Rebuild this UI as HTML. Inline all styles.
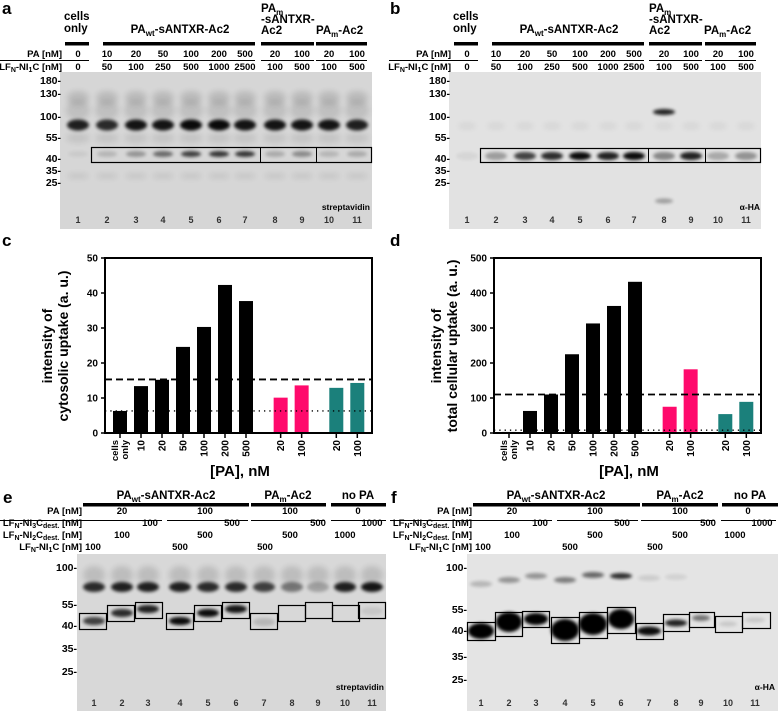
<!DOCTYPE html>
<html><head><meta charset="utf-8"><style>
html,body{margin:0;padding:0;background:#fff;}
svg{display:block;font-family:"Liberation Sans",Arial,sans-serif;font-weight:bold;}
</style></head><body>
<svg id="fig" width="778" height="711" viewBox="0 0 778 711" xmlns="http://www.w3.org/2000/svg">
<defs>
<filter id="bl" x="-50%" y="-200%" width="200%" height="500%"><feGaussianBlur stdDeviation="1.6"/></filter>
<filter id="bl2" x="-50%" y="-200%" width="200%" height="500%"><feGaussianBlur stdDeviation="3"/></filter>
</defs>

<!-- ===== Panel a ===== -->
<g>
<text x="2" y="14" font-size="17">a</text>
<text x="64" y="20" font-size="11.5">cells</text>
<text x="64" y="32" font-size="11.5">only</text>
<text x="180" y="33" font-size="11.5" text-anchor="middle">PA<tspan font-size="8" dy="3">wt</tspan><tspan dy="-3">-sANTXR-Ac2</tspan></text>
<text x="261" y="12" font-size="11.5">PA<tspan font-size="8" dy="3">m</tspan></text>
<text x="261" y="23" font-size="11.5">-sANTXR-</text>
<text x="261" y="34" font-size="11.5">Ac2</text>
<text x="316" y="34" font-size="11.5">PA<tspan font-size="8" dy="3">m</tspan><tspan dy="-3">-Ac2</tspan></text>
<g fill="#000"><rect x="65" y="42" width="24" height="3.5"/><rect x="103" y="42" width="152" height="3.5"/><rect x="261" y="42" width="53" height="3.5"/><rect x="316" y="42" width="51" height="3.5"/></g>
<text x="62" y="57" font-size="9.5" text-anchor="end">PA [nM]</text>
<text x="62" y="70" font-size="9.5" text-anchor="end">LF<tspan font-size="7" dy="2">N</tspan><tspan dy="-2">-NI</tspan><tspan font-size="7" dy="2">1</tspan><tspan dy="-2">C [nM]</tspan></text>
<line x1="0" y1="60.5" x2="89" y2="60.5" stroke="#000"/><line x1="103" y1="60.5" x2="255" y2="60.5" stroke="#000"/><line x1="261" y1="60.5" x2="314" y2="60.5" stroke="#000"/><line x1="316" y1="60.5" x2="367" y2="60.5" stroke="#000"/>
<g id="a-rows" font-size="9.5"></g>
<rect x="60" y="72" width="312" height="157" fill="#d6d6d6"/>
<g id="a-bands"></g>
<g font-size="10.5" text-anchor="end" id="a-mw"></g>
<rect x="91.5" y="147.5" width="280" height="15" fill="none" stroke="#000" stroke-width="1.2"/>
<line x1="260.5" y1="147.5" x2="260.5" y2="162.5" stroke="#000"/><line x1="316.5" y1="147.5" x2="316.5" y2="162.5" stroke="#000"/>
<text x="370" y="210" font-size="8.5" text-anchor="end">streptavidin</text>
<g id="a-lanes" font-size="9" fill="#333" text-anchor="middle"></g>
</g>

<!-- ===== Panel b ===== -->
<g>
<text x="390" y="14" font-size="17">b</text>
<text x="453" y="20" font-size="11.5">cells</text>
<text x="453" y="32" font-size="11.5">only</text>
<text x="569" y="33" font-size="11.5" text-anchor="middle">PA<tspan font-size="8" dy="3">wt</tspan><tspan dy="-3">-sANTXR-Ac2</tspan></text>
<text x="649" y="12" font-size="11.5">PA<tspan font-size="8" dy="3">m</tspan></text>
<text x="649" y="23" font-size="11.5">-sANTXR-</text>
<text x="649" y="34" font-size="11.5">Ac2</text>
<text x="704" y="34" font-size="11.5">PA<tspan font-size="8" dy="3">m</tspan><tspan dy="-3">-Ac2</tspan></text>
<g fill="#000"><rect x="454" y="42" width="24" height="3.5"/><rect x="492" y="42" width="152" height="3.5"/><rect x="649" y="42" width="53" height="3.5"/><rect x="705" y="42" width="51" height="3.5"/></g>
<text x="451" y="57" font-size="9.5" text-anchor="end">PA [nM]</text>
<text x="451" y="70" font-size="9.5" text-anchor="end">LF<tspan font-size="7" dy="2">N</tspan><tspan dy="-2">-NI</tspan><tspan font-size="7" dy="2">1</tspan><tspan dy="-2">C [nM]</tspan></text>
<line x1="389" y1="60.5" x2="478" y2="60.5" stroke="#000"/><line x1="492" y1="60.5" x2="644" y2="60.5" stroke="#000"/><line x1="649" y1="60.5" x2="702" y2="60.5" stroke="#000"/><line x1="705" y1="60.5" x2="756" y2="60.5" stroke="#000"/>
<g id="b-rows" font-size="9.5"></g>
<rect x="449" y="72" width="312" height="157" fill="#e2e2e2"/>
<g id="b-bands"></g>
<g font-size="10.5" text-anchor="end" id="b-mw"></g>
<rect x="480.5" y="148.5" width="280" height="14" fill="none" stroke="#000" stroke-width="1.2"/>
<line x1="648.5" y1="148.5" x2="648.5" y2="162.5" stroke="#000"/><line x1="705.5" y1="148.5" x2="705.5" y2="162.5" stroke="#000"/>
<text x="760" y="210" font-size="8.5" text-anchor="end">α-HA</text>
<g id="b-lanes" font-size="9" fill="#333" text-anchor="middle"></g>
</g>

<!-- ===== Panel c / d charts ===== -->
<text x="2" y="246" font-size="17">c</text>
<text x="390" y="246" font-size="17">d</text>
<g id="chart-c"></g>
<g id="chart-d"></g>

<!-- ===== Panel e ===== -->
<g>
<text x="3" y="503" font-size="17">e</text>
<text x="166" y="499" font-size="11.5" text-anchor="middle">PA<tspan font-size="8" dy="3">wt</tspan><tspan dy="-3">-sANTXR-Ac2</tspan></text>
<text x="288" y="499" font-size="11.5" text-anchor="middle">PA<tspan font-size="8" dy="3">m</tspan><tspan dy="-3">-Ac2</tspan></text>
<text x="358" y="499" font-size="11.5" text-anchor="middle">no PA</text>
<g fill="#000"><rect x="83" y="503" width="166" height="3.5"/><rect x="251" y="503" width="75" height="3.5"/><rect x="331" y="503" width="55" height="3.5"/></g>
<g id="e-hdr" font-size="9.5"></g>
<rect x="77" y="554" width="309" height="157" fill="#d8d8d8"/>
<g id="e-bands"></g>
<g id="e-boxes" fill="none" stroke="#000" stroke-width="1.2"></g>
<g font-size="10.5" text-anchor="end" id="e-mw"></g>
<text x="384" y="690" font-size="8.5" text-anchor="end">streptavidin</text>
<g id="e-lanes" font-size="9" fill="#333" text-anchor="middle"></g>
</g>

<!-- ===== Panel f ===== -->
<g>
<text x="391" y="503" font-size="17">f</text>
<text x="556" y="499" font-size="11.5" text-anchor="middle">PA<tspan font-size="8" dy="3">wt</tspan><tspan dy="-3">-sANTXR-Ac2</tspan></text>
<text x="680" y="499" font-size="11.5" text-anchor="middle">PA<tspan font-size="8" dy="3">m</tspan><tspan dy="-3">-Ac2</tspan></text>
<text x="750" y="499" font-size="11.5" text-anchor="middle">no PA</text>
<g fill="#000"><rect x="473" y="503" width="167" height="3.5"/><rect x="642" y="503" width="76" height="3.5"/><rect x="722" y="503" width="56" height="3.5"/></g>
<g id="f-hdr" font-size="9.5"></g>
<rect x="467" y="554" width="311" height="157" fill="#e4e4e4"/>
<g id="f-bands"></g>
<g id="f-boxes" fill="none" stroke="#000" stroke-width="1.2"></g>
<g font-size="10.5" text-anchor="end" id="f-mw"></g>
<text x="775" y="690" font-size="8.5" text-anchor="end">α-HA</text>
<g id="f-lanes" font-size="9" fill="#333" text-anchor="middle"></g>
</g>
</svg>

<script>
// ---- chart data ----
const cCategories = ["cells only","10","20","50","100","200","500","20","100","20","100"];
const cValues = [6.3,13.4,15.2,24.6,30.3,42.3,37.7,10.1,13.6,12.9,14.3];
const cTicks = [0,10,20,30,40,50];
const cDashed = 15.3;
const cDotted = 6.3;
const dCategories = ["cells only","10","20","50","100","200","500","20","100","20","100"];
const dValues = [3,63,110,225,313,363,432,75,182,54,89];
const dTicks = [0,100,200,300,400,500];
const dDashed = 110;
const dDotted = 8;
const barGroups = [0,0,0,0,0,0,0,1,1,2,2];

const NS = "http://www.w3.org/2000/svg";
function el(tag, attrs, parent, txt){
  const e = document.createElementNS(NS, tag);
  for (const k in attrs) e.setAttribute(k, attrs[k]);
  if (txt !== undefined) e.textContent = txt;
  parent.appendChild(e);
  return e;
}
const colors = ["#000","#ff0a6c","#1b807b"];

function drawChart(gid, ox, cats, vals, ticks, dashed, dotted, ymax, ylab1, ylab2){
  const g = document.getElementById(gid);
  const left = ox + 105, right = ox + 372, bottom = 433, top = 258;
  const y = v => bottom - (v / ymax) * (bottom - top);
  // slot positions: 7 black, gap, 2 pink, gap, 2 teal
  const slotIdx = [0,1,2,3,4,5,6,7.65,8.65,10.3,11.3];
  const x = i => left + 15 + slotIdx[i] * 21;
  const frame = el("rect", {x:left, y:top, width:right-left, height:bottom-top, fill:"none", stroke:"#000", "stroke-width":2}, g);
  
  
  ticks.forEach(t => {
    el("line", {x1:left-4, x2:left, y1:y(t), y2:y(t), stroke:"#000", "stroke-width":1.5}, g);
    const tl = el("text", {x:left-7, y:y(t)+3.5, "font-size":10, "text-anchor":"end"}, g, t);
    
    
  });
  vals.forEach((v, i) => {
    const r = el("rect", {x:x(i)-7, y:y(v), width:14, height:bottom-y(v), fill:colors[barGroups[i]]}, g);
    
    
    el("line", {x1:x(i), x2:x(i), y1:bottom, y2:bottom+5, stroke:"#000", "stroke-width":1.5}, g);
    if (cats[i] === "cells only") {
      const a = el("text", {transform:`translate(${x(i)-2},440) rotate(-90)`, "font-size":9.5, "text-anchor":"end"}, g, "cells");
      
      
      el("text", {transform:`translate(${x(i)+8},440) rotate(-90)`, "font-size":9.5, "text-anchor":"end"}, g, "only");
    } else {
      const a = el("text", {transform:`translate(${x(i)+3.5},440) rotate(-90)`, "font-size":10, "text-anchor":"end"}, g, cats[i]);
      
      
    }
  });
  el("line", {x1:left, x2:right, y1:bottom, y2:bottom, stroke:"#000", "stroke-width":2}, g);
  const dl = el("line", {x1:left, x2:right, y1:y(dashed), y2:y(dashed), stroke:"#000", "stroke-width":1.8, "stroke-dasharray":"7,4"}, g);
  
  
  const dt = el("line", {x1:left, x2:right, y1:y(dotted), y2:y(dotted), stroke:"#000", "stroke-width":1.3, "stroke-dasharray":"1.3,4"}, g);
  
  
  const yl = el("text", {transform:`translate(${ox+52},346) rotate(-90)`, "font-size":14, "text-anchor":"middle"}, g, ylab1);
  
  
  el("text", {transform:`translate(${ox+68},346) rotate(-90)`, "font-size":14, "text-anchor":"middle"}, g, ylab2);
  const xl = el("text", {x:ox+240, y:476, "font-size":15, "text-anchor":"middle"}, g, "[PA], nM");
  
  
}
drawChart("chart-c", 0, cCategories, cValues, cTicks, cDashed, cDotted, 50, "intensity of", "cytosolic uptake (a. u.)");
drawChart("chart-d", 389, dCategories, dValues, dTicks, dDashed, dDotted, 500, "intensity of", "total cellular uptake (a. u.)");

// ---- blot helpers (decorative) ----
function band(g, cx, cy, w, h, op, soft){
  const b = el("ellipse", {cx:cx, cy:cy, rx:w/2, ry:h/2, fill:"#000", opacity:op, filter: soft ? "url(#bl2)" : "url(#bl)"}, g);
  
  
}
function mw(gid, xr, list){
  const g = document.getElementById(gid);
  list.forEach(([t, yy]) => {
    const m = el("text", {x:xr, y:yy+4}, g, t + "-");
    
    
  });
}
function lanes(gid, xs, yy){
  const g = document.getElementById(gid);
  xs.forEach((xx, i) => {
    const t = el("text", {x:xx, y:yy}, g, i + 1);
    
    
  });
}

// Panel a / b rows
const abPA = ["0","10","20","50","100","200","500","20","100","20","100"];
const abLF = ["0","50","100","250","500","1000","2500","100","500","100","500"];
const aX = [78,107,136,163,191,219,245,275,302,329,357];
function rows(gid, xs){
  const g = document.getElementById(gid);
  xs.forEach((xx, i) => {
    el("text", {x:xx, y:57, "text-anchor":"middle"}, g, abPA[i]);
    el("text", {x:xx, y:70, "text-anchor":"middle"}, g, abLF[i]);
  });
}
rows("a-rows", aX);
const bX = aX.map(v => v + 389);
rows("b-rows", bX);

// a bands
(function(){
  const g = document.getElementById("a-bands");
  aX.forEach((xx, i) => {
    band(g, xx, 98, 22, 14, 0.12, true);
    band(g, xx, 125, 22, 11, [0.85,0.8,0.9,0.9,0.95,0.95,0.9,0.9,0.9,0.9,0.85][i], false);
    band(g, xx, 110, 24, 20, 0.1, true);
    band(g, xx, 138, 24, 10, 0.08, true);
    band(g, xx, 154, 20, 6, [0.05,0.15,0.3,0.5,0.7,0.75,0.75,0.2,0.35,0.15,0.2][i], false);
    band(g, xx, 176, 22, 6, 0.07, true);
  });
})();
mw("a-mw", 61, [["180",80],["130",93],["100",116],["55",137],["40",158],["35",170],["25",182]]);
lanes("a-lanes", aX, 223);

// b bands
(function(){
  const g = document.getElementById("b-bands");
  bX.forEach((xx, i) => {
    band(g, xx, 126, 18, 6, 0.06, true);
    band(g, xx, 156, 22, 8, [0.05,0.3,0.7,0.8,0.95,0.85,0.95,0.4,0.85,0.25,0.35][i], false);
  });
  band(g, bX[7], 112, 22, 6, 0.85, false);
  band(g, bX[7], 201, 18, 5, 0.3, false);
})();
mw("b-mw", 450, [["180",80],["130",93],["100",116],["55",137],["40",158],["35",170],["25",182]]);
lanes("b-lanes", bX, 223);

// e / f headers
function efHeader(gid, ox){
  const g = document.getElementById(gid);
  el("text", {x:ox+82, y:514, "text-anchor":"end"}, g, "PA [nM]");
  const r1 = el("text", {x:ox+82, y:526, "text-anchor":"end"}, g);
  r1.innerHTML = 'LF<tspan font-size="7" dy="2">N</tspan><tspan dy="-2">-NI</tspan><tspan font-size="7" dy="2">3</tspan><tspan dy="-2">C</tspan><tspan font-size="7" dy="2">dest.</tspan><tspan dy="-2"> [nM]</tspan>';
  const r2 = el("text", {x:ox+82, y:538, "text-anchor":"end"}, g);
  r2.innerHTML = 'LF<tspan font-size="7" dy="2">N</tspan><tspan dy="-2">-NI</tspan><tspan font-size="7" dy="2">2</tspan><tspan dy="-2">C</tspan><tspan font-size="7" dy="2">dest.</tspan><tspan dy="-2"> [nM]</tspan>';
  const r3 = el("text", {x:ox+82, y:550, "text-anchor":"end"}, g);
  r3.innerHTML = 'LF<tspan font-size="7" dy="2">N</tspan><tspan dy="-2">-NI</tspan><tspan font-size="7" dy="2">1</tspan><tspan dy="-2">C [nM]</tspan>';
  [[83,162],[167,248],[251,325],[331,386]].forEach(([a,b]) => el("line", {x1:ox+a, x2:ox+b, y1:520.5, y2:520.5, stroke:"#000"}, g));
  el("line", {x1:ox+0, x2:ox+83, y1:520.5, y2:520.5, stroke:"#000"}, g);
  [["20",122,514],["100",205,514],["100",290,514],["0",358,514],
   ["100",150,526],["500",232,526],["500",318,526],["1000",372,526],
   ["100",122,538],["500",205,538],["500",290,538],["1000",345,538],
   ["100",93,550],["500",180,550],["500",265,550]].forEach(([t,xx,yy]) => el("text", {x:ox+xx, y:yy, "text-anchor":"middle"}, g, t));
}
efHeader("e-hdr", 0);
efHeader("f-hdr", 390);

// e bands & boxes
const eX = [94,122,148,180,208,236,264,292,318,345,372];
(function(){
  const g = document.getElementById("e-bands");
  eX.forEach((xx, i) => {
    band(g, xx, 575, 22, 18, 0.12, true);
    band(g, xx, 587, 22, 10, [0.8,0.85,0.85,0.85,0.8,0.8,0.7,0.45,0.25,0.85,0.9][i], false);
  });
  const bb = [[94,621,0.7],[122,613,0.8],[148,609,0.85],[180,621,0.95],[208,613,0.95],[236,609,0.9],[264,622,0.15],[372,611,0.08]];
  bb.forEach(([xx,yy,o]) => band(g, xx, yy, 22, 8, o, false));
  const bx = document.getElementById("e-boxes");
  [[79,613],[107,605],[135,602],[166,613],[194,605],[222,602],[250,613],[278,605],[305,602],[332,605],[358,602]].forEach(([xx,yy]) => {
    const r = el("rect", {x:xx+0.5, y:yy+0.5, width:27, height:16}, bx);
    
    
  });
})();
mw("e-mw", 77, [["100",567],["55",604],["40",625],["35",648],["25",671]]);
lanes("e-lanes", eX, 706);

// f bands & boxes
const fX = [481,509,536,565,593,621,649,676,701,728,755];
(function(){
  const g = document.getElementById("f-bands");
  [[481,584,0.2],[509,580,0.35],[536,576,0.35],[565,580,0.45],[593,575,0.55],[621,576,0.8],[649,578,0.1],[676,577,0.08]].forEach(([xx,yy,o]) => band(g, xx, yy, 22, 6, o, false));
  [[481,631,26,16,1],[509,622,26,20,1],[536,619,24,12,1],[565,630,28,22,1],[593,624,28,22,1],[621,619,26,20,1],[649,631,24,9,0.95],[676,623,22,7,0.85],[701,618,18,6,0.5],[728,624,18,5,0.12],[755,620,20,5,0.12]].forEach(([xx,yy,w,h,o]) => band(g, xx, yy, w, h, o, false));
  const bx = document.getElementById("f-boxes");
  [[467,622,28,18],[495,612,27,24],[522,611,27,16],[551,617,28,26],[579,612,28,26],[607,607,28,26],[636,623,27,16],[663,614,26,17],[689,612,25,15],[715,616,27,16],[742,612,28,16]].forEach(([xx,yy,w,h]) => {
    const r = el("rect", {x:xx+0.5, y:yy+0.5, width:w, height:h}, bx);
    
    
  });
})();
mw("f-mw", 467, [["100",567],["55",609],["40",630],["35",656],["25",679]]);
lanes("f-lanes", fX, 706);
</script>
</body></html>
